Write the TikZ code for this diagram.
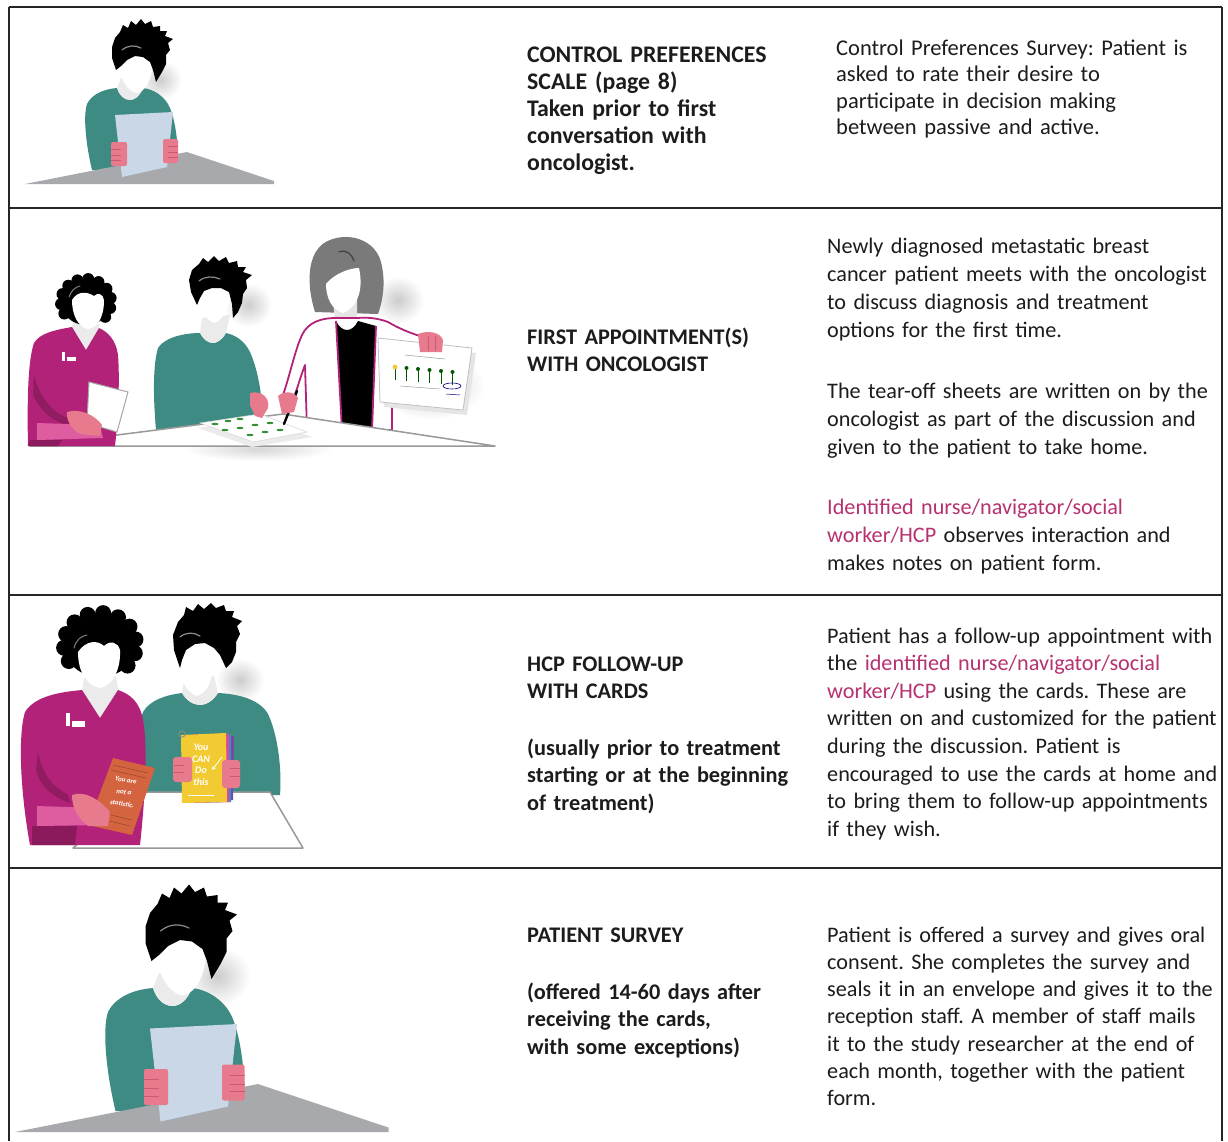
\documentclass[tikz,border=0pt]{standalone}
\usepackage{fontspec}
\setmainfont{Carlito}
\definecolor{ink}{RGB}{28,28,28}
\definecolor{accent}{RGB}{183,50,112}
\definecolor{shirt}{RGB}{62,139,132}
\definecolor{coat}{RGB}{178,34,120}
\definecolor{coatdark}{RGB}{138,26,92}
\definecolor{belt}{RGB}{222,92,160}
\definecolor{skin}{RGB}{232,122,142}
\definecolor{skindark}{RGB}{205,90,112}
\definecolor{sheet}{RGB}{201,215,231}
\definecolor{desk}{RGB}{167,169,172}
\definecolor{greyhair}{RGB}{122,122,122}
\definecolor{cardorange}{RGB}{212,100,64}
\definecolor{cardyellow}{RGB}{242,203,50}
\definecolor{cardblue}{RGB}{58,140,208}
\definecolor{cardpink}{RGB}{226,70,150}
\definecolor{cardpurple}{RGB}{120,70,160}
\tikzset{
  txt/.style={anchor=base west, inner sep=0pt, text width=#1, align=left,
    font=\fontsize{22.2}{27.5}\selectfont, text=ink},
  hd/.style={txt=#1, font=\fontsize{22.3}{27.5}\selectfont\bfseries},
  rule/.style={line width=1.6pt, draw=black!85},
  tabletop/.style={fill=white, draw=black!40, line width=1.5pt, line join=round},
  glow/.style={inner color=black!20, outer color=white},
  cardtxt/.style={inner sep=0pt, align=center, text=white,
    font=\fontsize{7}{12}\selectfont\bfseries\itshape},
}
% curly hair: a base ellipse with small bumps round its top and sides
% #1 centre x, #2 centre y, #3 radius x, #4 radius y, #5 bump radius
\newcommand\curlyhair[5]{%
  \fill[black] (#1,#2) ellipse (#3 and #4);
  \foreach \a in {-40,-15,...,220} {
    \fill[black] ({#1+#3*cos(\a)},{#2-#4*sin(\a)}) circle (#5);
  }
}
% seated figure reading a sheet, drawn in the coordinates of the first row
\newcommand\readerfigure{%
  \shade[glow] (160,80) ellipse (22 and 20);
  \fill[shirt] (117,88) .. controls (104,89) and (92,94) .. (87,104)
    .. controls (83,116) and (86,145) .. (92,170) -- (178,170)
    .. controls (179,150) and (176,122) .. (170,108)
    .. controls (165,96) and (153,89) .. (143,88)
    .. controls (140,96) and (135,100) .. (130,100)
    .. controls (124,100) and (119,95) .. (117,88) -- cycle;
  \fill[black!8] (121,78) -- (117,88) .. controls (119,95) and (124,100) .. (130,100)
    .. controls (135,100) and (140,96) .. (143,88) -- (149,76) -- cycle;
  \fill[white] (119,58) .. controls (118,76) and (127,92) .. (137,93)
    .. controls (146,91) and (152,80) .. (153,60) -- cycle;
  \fill[black] (116,70) -- (112,58) -- (112,47) -- (115,38) -- (120,32) -- (123,25)
    -- (128,28) -- (131,21) -- (136,25) -- (141,19) -- (145,24) -- (151,21)
    -- (153,27) -- (160,26) -- (160,31) -- (167,31) -- (165,36) -- (173,39)
    -- (168,43) -- (170,50) -- (166,55) -- (166,64) -- (162,72) -- (156,82)
    -- (153,70) -- (150,62) -- (143,57) -- (135,56) -- (127,60) -- (121,66) -- cycle;
  \draw[black!45, line width=1.2pt, line cap=round] (122,50) .. controls (128,45) and (135,45) .. (141,48);
  \fill[desk] (25,184) -- (187,152) -- (274,181) -- (274,184) -- cycle;
  \fill[sheet] (115,115) -- (173,112) -- (167,167) -- (122,177) -- cycle;
  \fill[skin, rounded corners=2pt] (111,142) rectangle (127,166);
  \fill[skin, rounded corners=2pt] (163,139) rectangle (178,163);
  \draw[skindark, line width=0.7pt] (111,149) -- (121,149) (111,155) -- (121,155) (111,160) -- (121,160)
    (168,146) -- (178,146) (168,152) -- (178,152) (168,157) -- (178,157);
}
\begin{document}
\frenchspacing
\begin{tikzpicture}[x=1pt,y=-1pt]
\useasboundingbox (0,0) rectangle (1228,1141);
\fill[white] (0,0) rectangle (1228,1141);

% ---------- row 1 ----------
\readerfigure
\node[hd=300, font=\fontsize{23.8}{27}\selectfont\bfseries] (r1head) at (527,62) {CONTROL PREFERENCES\\SCALE (page 8)\\Taken prior to first\\conversation with\\oncologist.};
\node[txt=385, font=\fontsize{22.5}{26.5}\selectfont] (r1text) at (836,55) {Control Preferences Survey: Patient is\\asked to rate their desire to\\participate in decision making\\between passive and active.};

% ---------- row 2 ----------
\shade[glow] (248,305) ellipse (24 and 22);
\shade[glow] (398,300) ellipse (26 and 24);
\shade[glow] (430,385) ellipse (55 and 35);
% patient
\fill[shirt] (200,333) .. controls (185,333) and (165,337) .. (158,348)
  .. controls (153,365) and (153,395) .. (156,430) -- (262,430)
  .. controls (264,400) and (258,370) .. (250,352)
  .. controls (244,340) and (235,335) .. (226,333)
  .. controls (222,340) and (217,343) .. (213,343)
  .. controls (208,343) and (203,339) .. (200,333) -- cycle;
\fill[black!8] (202,318) -- (200,333) .. controls (203,339) and (208,343) .. (213,343)
  .. controls (217,343) and (222,340) .. (226,333) -- (230,315) -- cycle;
\fill[white] (197,282) .. controls (196,302) and (204,320) .. (214,323)
  .. controls (224,320) and (231,305) .. (232,283) -- cycle;
\fill[black] (197,305) -- (191,292) -- (189,280) -- (192,270) -- (199,264) -- (203,258)
  -- (208,262) -- (214,256) -- (219,261) -- (226,257) -- (229,263) -- (237,261)
  -- (238,267) -- (246,267) -- (243,272) -- (252,275) -- (246,280) -- (247,288)
  -- (243,294) -- (242,303) -- (238,312) -- (233,318) -- (232,304) -- (229,292)
  -- (221,288) -- (212,288) -- (204,291) -- (200,298) -- cycle;
\draw[black!45, line width=1.2pt, line cap=round] (199,281) .. controls (205,276) and (213,276) .. (220,279);
% oncologist
\fill[greyhair] (315,312) .. controls (305,280) and (308,248) .. (330,240)
  .. controls (350,232) and (375,240) .. (381,262)
  .. controls (386,282) and (383,300) .. (378,314) -- cycle;
\fill[black!10] (333,300) -- (335,322) -- (357,322) -- (357,300) -- cycle;
\fill[white] (326,284) .. controls (335,273) and (350,268) .. (359,268)
  .. controls (363,286) and (360,306) .. (343,313)
  .. controls (332,310) and (326,298) .. (326,284) -- cycle;
\draw[black!75, line width=1.2pt, line cap=round] (339,252) .. controls (346,249) and (352,254) .. (354,261);
\filldraw[fill=white, draw=coat, line width=1.8pt, line join=round]
  (335,318) .. controls (322,318) and (308,322) .. (302,335)
  .. controls (295,350) and (290,375) .. (283,395) -- (292,402)
  .. controls (297,390) and (300,378) .. (305,365) -- (307,430) -- (392,430)
  -- (392,360) .. controls (400,355) and (410,352) .. (420,350) -- (420,336)
  .. controls (410,333) and (398,328) .. (388,322)
  .. controls (378,318) and (365,317) .. (358,318) -- cycle;
\fill[black] (336,321) .. controls (342,333) and (352,333) .. (358,321) -- (376,326) -- (372,430) -- (342,430) -- cycle;
\draw[coat, line width=1.8pt] (336,321) -- (342,430) (376,326) -- (372,430);
% chart held up by the oncologist
\fill[black!10] (382,343) -- (476,353) -- (467,415) -- (384,407) -- cycle;
\filldraw[fill=white, draw=black!25, line width=0.8pt] (378,338) -- (472,348) -- (463,410) -- (380,402) -- cycle;
\draw[black!35, line width=0.6pt] (405,355) -- (445,359);
\foreach \i in {0,...,5} {
  \draw[green!35!black, line width=0.8pt] ({395+11.5*\i},{368+\i}) -- ({395+11.5*\i},{380+\i});
}
\fill[cardyellow] (395,367) circle (2.4);
\foreach \i in {1,...,5} { \fill[green!35!black] ({395+11.5*\i},{367+\i}) circle (2); }
\draw[black!40, line width=0.5pt] (400,386) -- (440,389);
\draw[blue!55!black, line width=0.6pt] (452,386) ellipse (9 and 3);
\draw[blue!55!black, line width=0.5pt] (446,394) -- (460,395);
\fill[skin] (418,334) .. controls (428,330) and (440,332) .. (443,340) -- (442,352) -- (420,352) -- cycle;
\draw[skindark, line width=0.6pt] (428,336) -- (428,351) (435,336) -- (435,351);
% table
\shade[inner color=black!16, outer color=white] (258,449) ellipse (75 and 12);
\draw[tabletop] (30,446) -- (283,414) -- (495,446) -- cycle;
\fill[black!8] (198,428) -- (262,418) -- (312,437) -- (252,447) -- cycle;
\filldraw[fill=white, draw=black!15, line width=0.6pt] (200,423) -- (260,414) -- (307,432) -- (253,442) -- cycle;
\foreach \p in {(215,424),(228,421),(240,419),(225,430),(240,428),(255,425),(250,435),(265,432),(280,430),(270,423)} {
  \fill[green!45!black!80] \p ellipse (3.5 and 1.2);
}
\fill[skin] (250,393) .. controls (262,390) and (270,398) .. (268,408) -- (262,418) -- (255,416) -- (250,405) -- cycle;
\draw[black, line width=2.4pt, line cap=round] (297,391) -- (284,424);
\fill[skin] (278,396) .. controls (285,390) and (295,392) .. (298,398) -- (294,412) -- (282,414) -- cycle;
% nurse
\fill[black!8] (74,318) -- (72,327) -- (86,350) -- (99,328) -- (98,316) -- cycle;
\fill[coat] (72,327) .. controls (55,330) and (40,333) .. (34,343)
  .. controls (28,360) and (27,400) .. (28,446) -- (115,446)
  .. controls (118,420) and (120,380) .. (118,355)
  .. controls (116,340) and (108,332) .. (99,328) -- (86,350) -- cycle;
\fill[coatdark!80!coat] (34,375) .. controls (40,398) and (52,412) .. (68,418) -- (70,426)
  .. controls (52,422) and (40,410) .. (33,395) -- cycle;
\fill[belt] (37,423) -- (100,425) -- (103,438) -- (37,440) -- cycle;
\fill[coatdark] (30,440) -- (62,440) -- (58,446) -- (28,446) -- cycle;
\filldraw[fill=white, draw=black!35, line width=1pt] (89,382) -- (128,392) -- (117,432) -- (87,423) -- cycle;
\fill[skin] (67,412) .. controls (80,408) and (95,415) .. (102,425) -- (100,436) -- (80,434)
  .. controls (72,430) and (66,420) .. (67,412) -- cycle;
\fill[white] (62,352) rectangle (65,361);
\fill[white] (67,357) rectangle (76,361);
\curlyhair{86}{302}{25}{23}{6}
\fill[white] (72,300) .. controls (78,290) and (88,292) .. (94,296)
  .. controls (98,292) and (103,294) .. (104,300)
  .. controls (104,318) and (97,328) .. (88,329)
  .. controls (78,327) and (72,315) .. (72,300) -- cycle;
\draw[black!50, line width=1pt, line cap=round] (69,297) .. controls (71,291) and (75,287) .. (80,286);

\node[hd=300] (r2head) at (527,344) {FIRST APPOINTMENT(S)\\WITH ONCOLOGIST};
\node[txt=420, font=\fontsize{22.2}{28}\selectfont] (r2textA) at (827,253) {Newly diagnosed metastatic breast\\cancer patient meets with the oncologist\\to discuss diagnosis and treatment\\options for the first time.};
\node[txt=420, font=\fontsize{22.2}{28}\selectfont] (r2textB) at (827,398) {The tear-off sheets are written on by the\\oncologist as part of the discussion and\\given to the patient to take home.};
\node[txt=420, font=\fontsize{22.2}{28}\selectfont] (r2textC) at (827,514) {{\color{accent}Identified nurse/navigator/social\\worker/HCP} observes interaction and\\makes notes on patient form.};

% ---------- row 3 ----------
\shade[glow] (240,680) ellipse (24 and 22);
% patient with cards
\fill[shirt] (182,693) .. controls (166,695) and (150,700) .. (143,712)
  .. controls (137,730) and (138,765) .. (140,795) -- (280,795)
  .. controls (282,770) and (278,735) .. (268,714)
  .. controls (260,700) and (240,694) .. (218,693)
  .. controls (213,701) and (206,705) .. (200,705)
  .. controls (193,705) and (186,700) .. (182,693) -- cycle;
\fill[black!8] (184,680) -- (182,693) .. controls (186,700) and (193,705) .. (200,705)
  .. controls (206,705) and (213,701) .. (218,693) -- (214,676) -- cycle;
\fill[white] (178,652) .. controls (177,675) and (186,693) .. (197,696)
  .. controls (208,693) and (214,678) .. (214,655) -- cycle;
\fill[black] (180,668) -- (174,650) -- (173,635) -- (178,622) -- (184,615) -- (186,607)
  -- (193,611) -- (198,604) -- (204,609) -- (211,603) -- (216,608) -- (224,605)
  -- (226,611) -- (234,611) -- (232,617) -- (242,621) -- (237,626) -- (240,634)
  -- (236,642) -- (236,652) -- (232,662) -- (226,668) -- (220,655) -- (214,648)
  -- (205,643) -- (195,644) -- (186,650) -- (182,660) -- cycle;
\draw[black!45, line width=1.2pt, line cap=round] (180,637) .. controls (186,632) and (194,632) .. (200,636);
\draw[tabletop] (73,848) -- (140,792) -- (270,792) -- (303,848) -- cycle;
\fill[cardpurple] (192,734) -- (234,736) -- (233,800) -- (192,801) -- cycle;
\fill[cardblue] (189,735) -- (231,735) -- (231,802) -- (189,803) -- cycle;
\fill[cardpink] (186,736) -- (229,734) -- (229,802) -- (186,803) -- cycle;
\fill[cardyellow] (181,735) -- (226,733) -- (227,802) -- (182,803) -- cycle;
\draw[black!45, line width=0.8pt] (182,734) circle (3.2);
\node[cardtxt, font=\fontsize{10}{11.5}\selectfont\bfseries\itshape] (cardyou) at (201,765) {You\\CAN\\Do\\this};
\draw[white, line width=0.8pt, -stealth] (222,757) -- (212,770);
\draw[white, line width=0.8pt] (188,795) -- (214,795);
\fill[skin, rounded corners=3pt] (173,757) rectangle (192,782);
\fill[skin, rounded corners=3pt] (222,760) rectangle (240,788);
\draw[skindark, line width=0.6pt] (174,765) -- (184,765) (174,772) -- (184,772) (230,768) -- (240,768) (230,776) -- (240,776);
% nurse with card
\fill[black!8] (84,678) -- (82,692) -- (100,718) -- (118,690) -- (116,676) -- cycle;
\fill[coat] (82,690) .. controls (60,692) and (35,696) .. (25,712)
  .. controls (18,735) and (20,790) .. (30,845) -- (140,845)
  .. controls (145,800) and (148,745) .. (143,720)
  .. controls (140,702) and (130,694) .. (118,690) -- (100,718) -- cycle;
\fill[coatdark!80!coat] (38,752) .. controls (42,772) and (50,785) .. (68,795) -- (70,803)
  .. controls (50,796) and (40,785) .. (36,770) -- cycle;
\fill[white] (66,713) rectangle (70,726);
\fill[white] (72,721) rectangle (85,727);
\fill[belt] (37,806) -- (98,808) -- (100,825) -- (37,826) -- cycle;
\fill[coatdark] (32,826) -- (77,826) -- (75,845) -- (32,845) -- cycle;
\fill[cardorange] (113,758) -- (155,768) -- (132,835) -- (88,825) -- cycle;
\draw[cardorange!70!black, line width=0.5pt] (113,765) -- (148,773) (111,770) -- (146,778) (99,812) -- (132,820) (97,818) -- (130,826);
\node[cardtxt, rotate=-9] (cardstat) at (124,792) {You are\\not a\\statistic.};
\fill[skin] (72,795) .. controls (85,790) and (100,800) .. (110,812) -- (108,826) -- (88,826)
  .. controls (78,818) and (72,808) .. (72,795) -- cycle;
\curlyhair{100}{645}{36}{32}{8}
\fill[white] (78,652) .. controls (86,640) and (98,640) .. (104,646)
  .. controls (110,640) and (118,642) .. (120,650)
  .. controls (121,670) and (112,686) .. (100,688)
  .. controls (87,686) and (78,672) .. (78,652) -- cycle;
\draw[black!50, line width=1pt, line cap=round] (74,648) .. controls (76,640) and (81,636) .. (87,635);

\node[hd=300] (r3headA) at (527,671) {HCP FOLLOW-UP\\WITH CARDS};
\node[hd=300] (r3headB) at (527,755) {(usually prior to treatment\\starting or at the beginning\\of treatment)};
\node[txt=420, font=\fontsize{22.2}{27.6}\selectfont] (r3text) at (827,643) {Patient has a follow-up appointment with\\the {\color{accent}identified nurse/navigator/social\\worker/HCP} using the cards. These are\\written on and customized for the patient\\during the discussion. Patient is\\encouraged to use the cards at home and\\to bring them to follow-up appointments\\if they wish.};

% ---------- row 4 ----------
\begin{scope}[shift={(15,1132)}, scale=1.5, shift={(-25,-184)}]
  \readerfigure
\end{scope}
\node[hd=300] (r4headA) at (527,942) {PATIENT SURVEY};
\node[hd=300] (r4headB) at (527,999) {(offered 14-60 days after\\receiving the cards,\\with some exceptions)};
\node[txt=420, font=\fontsize{22.2}{27.3}\selectfont] (r4text) at (827,942) {Patient is offered a survey and gives oral\\consent. She completes the survey and\\seals it in an envelope and gives it to the\\reception staff. A member of staff mails\\it to the study researcher at the end of\\each month, together with the patient\\form.};

% ---------- table rules ----------
\draw[rule] (9,7) -- (1222,7);
\draw[rule] (9,7) -- (9,1141);
\draw[rule] (1222,7) -- (1222,1141);
\draw[rule] (9,208) -- (1222,208);
\draw[rule] (9,595) -- (1222,595);
\draw[rule] (9,868) -- (1222,868);
\end{tikzpicture}
\end{document}
